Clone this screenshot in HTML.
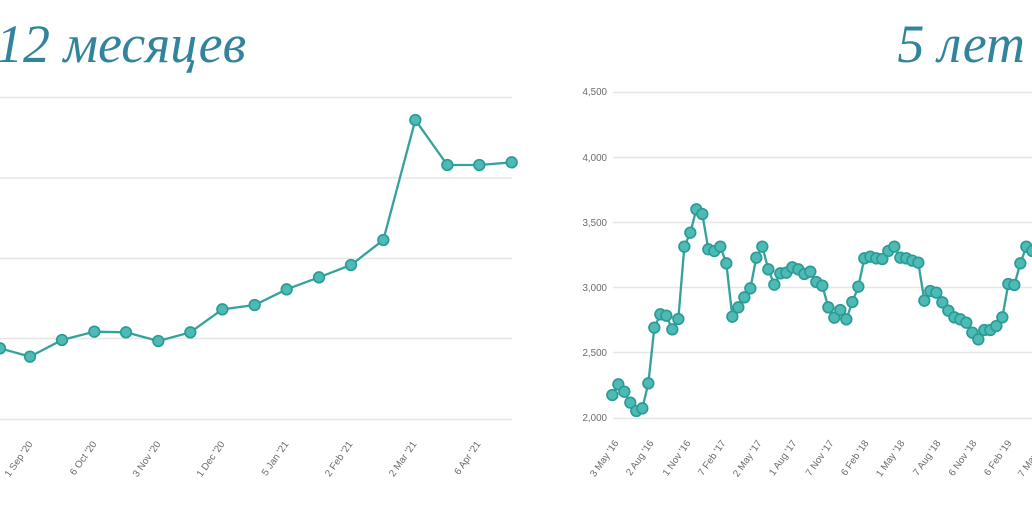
<!DOCTYPE html>
<html><head><meta charset="utf-8"><style>
html,body{margin:0;padding:0;background:#fff;width:1032px;height:516px;overflow:hidden}
svg{display:block}
.t{font-family:"Liberation Serif",serif;font-style:italic;fill:#31849b;font-size:54px}
.ax{font-family:"Liberation Sans",sans-serif;fill:#6b6b6b;font-size:9.8px}
</style></head><body>
<svg width="1032" height="516" viewBox="0 0 1032 516">
<text class="t" x="-4" y="62">12 месяцев</text>
<text class="t" x="1025" y="62" text-anchor="end">5 лет</text>
<g stroke="#e6e6e6" stroke-width="1.5">
<line x1="0" y1="97.5" x2="512" y2="97.5"/><line x1="0" y1="178" x2="512" y2="178"/><line x1="0" y1="258.5" x2="512" y2="258.5"/><line x1="0" y1="338.5" x2="512" y2="338.5"/><line x1="0" y1="419.5" x2="512" y2="419.5"/>
<line x1="613" y1="92.5" x2="1032" y2="92.5"/><line x1="613" y1="157.5" x2="1032" y2="157.5"/><line x1="613" y1="222.5" x2="1032" y2="222.5"/><line x1="613" y1="287.5" x2="1032" y2="287.5"/><line x1="613" y1="352.5" x2="1032" y2="352.5"/><line x1="613" y1="418.5" x2="1032" y2="418.5"/>
</g>
<g class="ax" text-anchor="end">
<text x="607" y="95">4,500</text><text x="607" y="161">4,000</text><text x="607" y="226">3,500</text><text x="607" y="291">3,000</text><text x="607" y="356">2,500</text><text x="607" y="421">2,000</text>
</g>
<g class="ax" text-anchor="end">
<text transform="translate(33,444) rotate(-55)">1 Sep '20</text>
<text transform="translate(97,444) rotate(-55)">6 Oct '20</text>
<text transform="translate(161,444) rotate(-55)">3 Nov '20</text>
<text transform="translate(225,444) rotate(-55)">1 Dec '20</text>
<text transform="translate(289,444) rotate(-55)">5 Jan '21</text>
<text transform="translate(353,444) rotate(-55)">2 Feb '21</text>
<text transform="translate(417,444) rotate(-55)">2 Mar '21</text>
<text transform="translate(481,444) rotate(-55)">6 Apr '21</text>
<text transform="translate(619,443) rotate(-55)">3 May '16</text>
<text transform="translate(654,443) rotate(-55)">2 Aug '16</text>
<text transform="translate(691,443) rotate(-55)">1 Nov '16</text>
<text transform="translate(726,443) rotate(-55)">7 Feb '17</text>
<text transform="translate(762,443) rotate(-55)">2 May '17</text>
<text transform="translate(797,443) rotate(-55)">1 Aug '17</text>
<text transform="translate(834,443) rotate(-55)">7 Nov '17</text>
<text transform="translate(869,443) rotate(-55)">6 Feb '18</text>
<text transform="translate(905,443) rotate(-55)">1 May '18</text>
<text transform="translate(941,443) rotate(-55)">7 Aug '18</text>
<text transform="translate(977,443) rotate(-55)">6 Nov '18</text>
<text transform="translate(1012,443) rotate(-55)">6 Feb '19</text>
<text transform="translate(1047,443) rotate(-55)">7 May '19</text>
</g>
<g transform="translate(0,80) scale(0.33333)">
<polyline fill="none" stroke="#36a29d" stroke-width="7" points="0,805 90,830 186,780 283,755 378,757 475,783 571,757 667,688 764,675 860,628 957,592 1053,555 1150,480 1246,120 1342,255 1438,255 1535,247"/>
<g fill="#4dbab5" stroke="#2b9b96" stroke-width="5">
<circle cx="0" cy="805" r="16"/><circle cx="90" cy="830" r="16"/><circle cx="186" cy="780" r="16"/><circle cx="283" cy="755" r="16"/><circle cx="378" cy="757" r="16"/><circle cx="475" cy="783" r="16"/><circle cx="571" cy="757" r="16"/><circle cx="667" cy="688" r="16"/><circle cx="764" cy="675" r="16"/><circle cx="860" cy="628" r="16"/><circle cx="957" cy="592" r="16"/><circle cx="1053" cy="555" r="16"/><circle cx="1150" cy="480" r="16"/><circle cx="1246" cy="120" r="16"/><circle cx="1342" cy="255" r="16"/><circle cx="1438" cy="255" r="16"/><circle cx="1535" cy="247" r="16"/>
</g></g>
<g transform="translate(560,80) scale(0.33333)">
<polyline fill="none" stroke="#36a29d" stroke-width="7" points="157,945 175,913 193,935 211,968 229,993 247,985 265,910 283,743 301,703 319,707 337,748 355,717 373,500 391,458 409,388 427,402 445,508 463,513 481,500 499,550 517,710 535,682 553,652 571,625 589,533 607,500 625,568 643,614 661,580 679,578 697,562 715,568 733,582 751,575 769,606 787,617 805,682 823,713 841,690 859,718 877,666 895,620 913,535 931,530 949,535 967,537 985,513 1003,500 1021,533 1039,535 1057,542 1075,548 1093,662 1111,633 1129,638 1147,667 1165,692 1183,712 1201,718 1219,728 1237,758 1255,778 1273,750 1291,750 1309,738 1327,712 1345,612 1363,615 1381,550 1399,500 1417,513 1435,520"/>
<g fill="#4dbab5" stroke="#2b9b96" stroke-width="5">
<circle cx="157" cy="945" r="16"/><circle cx="175" cy="913" r="16"/><circle cx="193" cy="935" r="16"/><circle cx="211" cy="968" r="16"/><circle cx="229" cy="993" r="16"/><circle cx="247" cy="985" r="16"/><circle cx="265" cy="910" r="16"/><circle cx="283" cy="743" r="16"/><circle cx="301" cy="703" r="16"/><circle cx="319" cy="707" r="16"/><circle cx="337" cy="748" r="16"/><circle cx="355" cy="717" r="16"/><circle cx="373" cy="500" r="16"/><circle cx="391" cy="458" r="16"/><circle cx="409" cy="388" r="16"/><circle cx="427" cy="402" r="16"/><circle cx="445" cy="508" r="16"/><circle cx="463" cy="513" r="16"/><circle cx="481" cy="500" r="16"/><circle cx="499" cy="550" r="16"/><circle cx="517" cy="710" r="16"/><circle cx="535" cy="682" r="16"/><circle cx="553" cy="652" r="16"/><circle cx="571" cy="625" r="16"/><circle cx="589" cy="533" r="16"/><circle cx="607" cy="500" r="16"/><circle cx="625" cy="568" r="16"/><circle cx="643" cy="614" r="16"/><circle cx="661" cy="580" r="16"/><circle cx="679" cy="578" r="16"/><circle cx="697" cy="562" r="16"/><circle cx="715" cy="568" r="16"/><circle cx="733" cy="582" r="16"/><circle cx="751" cy="575" r="16"/><circle cx="769" cy="606" r="16"/><circle cx="787" cy="617" r="16"/><circle cx="805" cy="682" r="16"/><circle cx="823" cy="713" r="16"/><circle cx="841" cy="690" r="16"/><circle cx="859" cy="718" r="16"/><circle cx="877" cy="666" r="16"/><circle cx="895" cy="620" r="16"/><circle cx="913" cy="535" r="16"/><circle cx="931" cy="530" r="16"/><circle cx="949" cy="535" r="16"/><circle cx="967" cy="537" r="16"/><circle cx="985" cy="513" r="16"/><circle cx="1003" cy="500" r="16"/><circle cx="1021" cy="533" r="16"/><circle cx="1039" cy="535" r="16"/><circle cx="1057" cy="542" r="16"/><circle cx="1075" cy="548" r="16"/><circle cx="1093" cy="662" r="16"/><circle cx="1111" cy="633" r="16"/><circle cx="1129" cy="638" r="16"/><circle cx="1147" cy="667" r="16"/><circle cx="1165" cy="692" r="16"/><circle cx="1183" cy="712" r="16"/><circle cx="1201" cy="718" r="16"/><circle cx="1219" cy="728" r="16"/><circle cx="1237" cy="758" r="16"/><circle cx="1255" cy="778" r="16"/><circle cx="1273" cy="750" r="16"/><circle cx="1291" cy="750" r="16"/><circle cx="1309" cy="738" r="16"/><circle cx="1327" cy="712" r="16"/><circle cx="1345" cy="612" r="16"/><circle cx="1363" cy="615" r="16"/><circle cx="1381" cy="550" r="16"/><circle cx="1399" cy="500" r="16"/><circle cx="1417" cy="513" r="16"/><circle cx="1435" cy="520" r="16"/>
</g></g>
</svg>
</body></html>
